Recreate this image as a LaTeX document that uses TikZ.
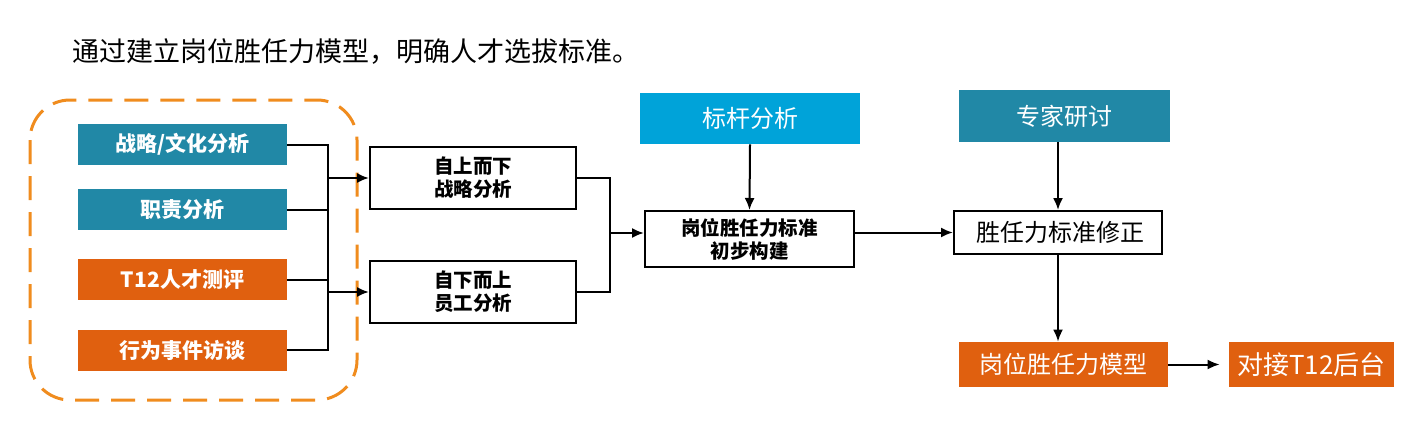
\documentclass[tikz,border=0pt]{standalone}
\usepackage{fontspec}
\setmainfont{Noto Sans CJK SC}
\usetikzlibrary{arrows.meta}

\definecolor{tealbox}{RGB}{33,136,166}
\definecolor{bluebox}{RGB}{0,163,217}
\definecolor{orangebox}{RGB}{224,96,15}
\definecolor{orangedash}{RGB}{240,140,30}

\tikzset{
  fillbox/.style={inner sep=0pt,text=white,font=\fontsize{10.5pt}{12pt}\selectfont},
  linebox/.style={draw,line width=1pt,inner sep=0pt,align=center,font=\bfseries\fontsize{9.75pt}{11.5pt}\selectfont},
  conn/.style={line width=1pt},
  arr/.style={line width=1pt,-{Latex[length=6pt,width=5pt]}}
}

\begin{document}
\begin{tikzpicture}[x=0.5pt,y=-0.5pt]
      \useasboundingbox[fill=white] (0,0) rectangle (1412,423);

      \node[anchor=west,inner sep=0pt,font=\fontsize{13.5pt}{15pt}\selectfont] (title) at (72,52)
        {通过建立岗位胜任力模型，明确人才选拔标准。};

      \draw[orangedash,line width=1.5pt,dash pattern=on 12pt off 6pt,rounded corners=20pt]
        (30,100) rectangle (357,400);

      \begin{scope}[every node/.style={fillbox,font=\bfseries\fontsize{10.5pt}{12pt}\selectfont,
                                       minimum width=104.5pt,minimum height=20.5pt}]
        \node[fill=tealbox]   (zl) at (182.5,144.5) {战略/文化分析};
        \node[fill=tealbox]   (zz) at (182.5,209.5) {职责分析};
        \node[fill=orangebox] (cp) at (182.5,279.5) {T12人才测评};
        \node[fill=orangebox] (xw) at (182.5,350)   {行为事件访谈};
      \end{scope}

      \begin{scope}[every node/.style={linebox,minimum width=103pt,minimum height=31pt}]
        \node (sx) at (473,178) {自上而下\\战略分析};
        \node (xs) at (473,292) {自下而上\\员工分析};
      \end{scope}

      \node[linebox,minimum width=104.5pt,minimum height=28pt] (cb) at (749.5,239)
        {岗位胜任力标准\\初步构建};
      \node[fillbox,fill=bluebox,minimum width=110pt,minimum height=25.5pt,
            font=\fontsize{12pt}{14pt}\selectfont] (bg) at (750,118.5) {标杆分析};

      \node[draw,line width=1pt,inner sep=0pt,minimum width=104pt,minimum height=21.5pt,
            font=\fontsize{12pt}{14pt}\selectfont] (xz) at (1058,232.5) {~胜任力标准修正};
      \node[fillbox,fill=tealbox,minimum width=105.5pt,minimum height=26pt,
            font=\fontsize{12pt}{14pt}\selectfont] (zj) at (1064.5,116) {专家研讨};

      \begin{scope}[every node/.style={fillbox,fill=orangebox,minimum height=22.5pt}]
        \node[minimum width=104.5pt,font=\fontsize{12pt}{14pt}\selectfont] (mx) at (1063.5,364.5) {岗位胜任力模型};
        \node[minimum width=82.5pt,font=\fontsize{13pt}{15pt}\selectfont]  (dj) at (1311.5,364.5) {对接T12后台};
      \end{scope}

      % left bracket
      \coordinate (j1) at (328,178);
      \coordinate (j2) at (328,292);
      \draw[conn] (zl.east) -| (j1) -- (j2) |- (xw.east);
      \draw[conn] (zz.east) -- (zz.east -| j1);
      \draw[conn] (cp.east) -- (cp.east -| j1);
      \draw[arr] (j1) -- (sx.west);
      \draw[arr] (j2) -- (xs.west);

      % right bracket
      \coordinate (j3) at (610,233);
      \draw[conn] (sx.east) -| (j3) |- (xs.east);
      \draw[arr] (j3) -- (j3 -| cb.west);

      \draw[arr] (bg.south) -- (cb.north);
      \draw[arr] (cb.east |- xz.west) -- (xz.west);
      \draw[arr] (xz.north |- zj.south) -- (xz.north);
      \draw[arr] (xz.south) -- (xz.south |- mx.north);
      \draw[arr,shorten >=4.5pt] (mx.east) -- (dj.west);

    \end{tikzpicture}
\end{document}
